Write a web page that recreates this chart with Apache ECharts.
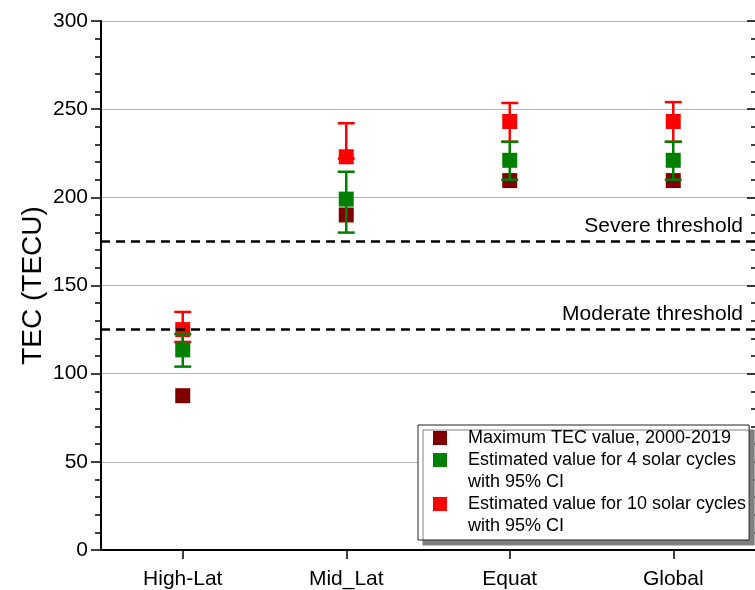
<!DOCTYPE html>
<html>
<head>
<meta charset="utf-8">
<script src="https://cdn.jsdelivr.net/npm/echarts@6/dist/echarts.min.js"></script>
<style>
  html, body { margin: 0; padding: 0; background: #fff; }
  #chart { width: 755px; height: 590px; }
</style>
</head>
<body>
<div id="chart"></div>
<script>
// Regions on the x axis
const categories = ['High-Lat', 'Mid_Lat', 'Equat', 'Global'];

// Observed maximum TEC, 2000-2019
const maxTec = [87.5, 190, 209.5, 209.5];

// Estimate for 4 solar cycles with 95% CI
const est4 = [113.5, 199, 221, 221];
const est4Low = [104, 180, 210, 210];
const est4High = [122.5, 214.5, 231.5, 231.5];

// Estimate for 10 solar cycles with 95% CI
const est10 = [125, 223, 243, 243];
const est10Low = [118, 222, 231.5, 231.5];
const est10High = [135, 242, 253.5, 254];

// Storm thresholds (TECU)
const thresholdNames = ['Severe threshold', 'Moderate threshold'];
const thresholdValues = [175, 125];

// Value axis
const yMin = 0, yMax = 300, yStep = 50;

const nameMax = 'Maximum TEC value, 2000-2019';
const name4 = 'Estimated value for 4 solar cycles with 95% CI';
const name10 = 'Estimated value for 10 solar cycles with 95% CI';

// Two-line legend entries; the blank first line keeps the swatch beside the first text line
const legendText = {};
legendText[nameMax] = 'Maximum TEC value, 2000-2019';
legendText[name4] = ' \nEstimated value for 4 solar cycles\nwith 95% CI';
legendText[name10] = ' \nEstimated value for 10 solar cycles\nwith 95% CI';

const FONT = '"Liberation Sans", Arial, sans-serif';
const COLOR_MAX = '#800000';
const COLOR_4 = '#008000';
const COLOR_10 = '#ff0000';

function errorBarData(low, high) {
  return categories.map((c, i) => [i, low[i], high[i]]);
}

function errorBarRenderer(color) {
  return function (params, api) {
    const x = api.value(0);
    const lo = api.coord([x, api.value(1)]);
    const hi = api.coord([x, api.value(2)]);
    const half = 8.5;
    const style = { stroke: color, lineWidth: 2.5 };
    return {
      type: 'group',
      children: [
        { type: 'line', shape: { x1: lo[0], y1: lo[1], x2: hi[0], y2: hi[1] }, style },
        { type: 'line', shape: { x1: hi[0] - half, y1: hi[1], x2: hi[0] + half, y2: hi[1] }, style },
        { type: 'line', shape: { x1: lo[0] - half, y1: lo[1], x2: lo[0] + half, y2: lo[1] }, style }
      ]
    };
  };
}

const legendCommon = {
  orient: 'vertical',
  left: 418,
  itemWidth: 14,
  itemHeight: 14,
  itemGap: 0,
  selectedMode: false,
  icon: 'rect',
  formatter: (name) => legendText[name],
  textStyle: { color: '#000', fontSize: 18, lineHeight: 22, fontFamily: FONT, padding: [0, 0, 0, 16] }
};

const chart = echarts.init(document.getElementById('chart'), null, { renderer: 'canvas' });

chart.setOption({
  animation: false,
  backgroundColor: '#fff',
  textStyle: { fontFamily: FONT },
  grid: { left: 101, right: -1, top: 21, bottom: 40, containLabel: false },
  xAxis: [
    {
      type: 'category',
      data: categories,
      position: 'bottom',
      axisLine: { show: true, lineStyle: { color: '#000', width: 2 } },
      axisTick: { show: true, alignWithLabel: true, length: 9, lineStyle: { color: '#000', width: 1.5 } },
      axisLabel: { color: '#000', fontSize: 21, fontFamily: FONT, margin: 19 },
      splitLine: { show: false }
    },
    {
      type: 'category',
      data: categories,
      position: 'top',
      axisLine: { show: true, lineStyle: { color: '#000', width: 2 } },
      axisTick: { show: false },
      axisLabel: { show: false },
      splitLine: { show: false }
    }
  ],
  yAxis: [
    {
      type: 'value',
      min: yMin, max: yMax, interval: yStep,
      position: 'left',
      name: 'TEC (TECU)',
      nameLocation: 'middle',
      nameGap: 54,
      nameMoveOverlap: false,
      nameTextStyle: { color: '#000', fontSize: 28, fontFamily: FONT },
      axisLine: { show: true, lineStyle: { color: '#000', width: 2 } },
      axisTick: { show: true, length: 10, lineStyle: { color: '#000', width: 1.5 } },
      minorTick: { show: true, splitNumber: 5, length: 6, lineStyle: { color: '#000', width: 1.5 } },
      axisLabel: { color: '#000', fontSize: 21, fontFamily: FONT, margin: 13 },
      splitLine: { show: true, lineStyle: { color: '#b4b4b4', width: 1 } }
    },
    {
      type: 'value',
      min: yMin, max: yMax, interval: yStep,
      position: 'right',
      axisLine: { show: false },
      axisTick: { show: true, inside: true, length: 8, lineStyle: { color: '#000', width: 1.5 } },
      minorTick: { show: true, splitNumber: 5, length: 4, lineStyle: { color: '#000', width: 1.5 } },
      axisLabel: { show: false },
      splitLine: { show: false }
    }
  ],
  legend: [
    // Framed box with its drop shadow, holding the first entry
    Object.assign({}, legendCommon, {
      top: 425,
      padding: [2, 18, 91, 15],
      backgroundColor: '#fff',
      borderColor: '#222',
      borderWidth: 1,
      shadowColor: '#808080',
      shadowBlur: 0,
      shadowOffsetX: 5,
      shadowOffsetY: 5,
      data: [nameMax]
    }),
    Object.assign({}, legendCommon, { top: 427, padding: [0, 0, 0, 15], data: [name4] }),
    Object.assign({}, legendCommon, { top: 471, padding: [0, 0, 0, 15], data: [name10] })
  ],
  series: [
    {
      name: nameMax,
      type: 'scatter',
      symbol: 'rect',
      symbolSize: 15,
      itemStyle: { color: COLOR_MAX, opacity: 1 },
      data: maxTec,
      z: 2
    },
    {
      type: 'custom',
      renderItem: errorBarRenderer(COLOR_10),
      data: errorBarData(est10Low, est10High),
      encode: { x: 0, y: [1, 2] },
      z: 3,
      silent: true
    },
    {
      name: name10,
      type: 'scatter',
      symbol: 'rect',
      symbolSize: 15,
      itemStyle: { color: COLOR_10, opacity: 1 },
      data: est10,
      z: 4
    },
    {
      type: 'custom',
      renderItem: errorBarRenderer(COLOR_4),
      data: errorBarData(est4Low, est4High),
      encode: { x: 0, y: [1, 2] },
      z: 5,
      silent: true
    },
    {
      name: name4,
      type: 'scatter',
      symbol: 'rect',
      symbolSize: 15,
      itemStyle: { color: COLOR_4, opacity: 1 },
      data: est4,
      z: 6,
      markLine: {
        silent: true,
        symbol: ['none', 'none'],
        lineStyle: { color: '#000', width: 2.5, type: [9, 6] },
        label: {
          show: true,
          position: 'insideEndTop',
          formatter: '{b}',
          color: '#000',
          fontSize: 21,
          fontFamily: FONT,
          padding: [0, 7, 0, 0]
        },
        data: thresholdNames.map((n, i) => ({ name: n, yAxis: thresholdValues[i] }))
      }
    }
  ]
});
</script>
</body>
</html>
